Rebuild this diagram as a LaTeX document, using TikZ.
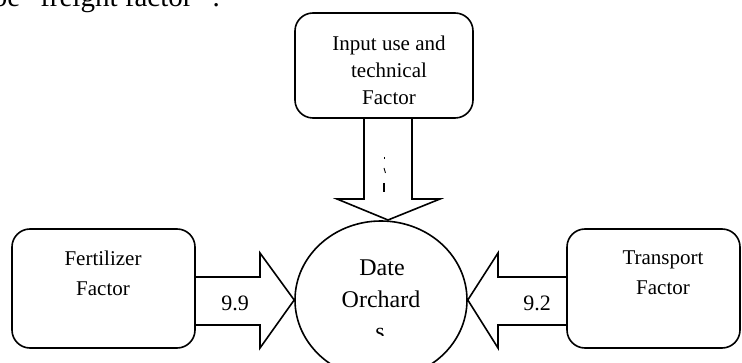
\documentclass[tikz,border=0pt]{standalone}
\usepackage{fontspec}
\setmainfont{Liberation Serif}
\usetikzlibrary{calc,shapes.geometric}
\begin{document}
\begin{tikzpicture}[x=1pt,y=-1pt, line width=1.6pt,
  box/.style={draw, rounded corners=18pt, inner sep=0pt},
  blockarrow/.style={draw, line join=miter},
  lbl/.style={font=\fontsize{21}{30}\selectfont, align=center, inner sep=0pt},
  ctxt/.style={font=\fontsize{24}{32}\selectfont, inner sep=0pt, anchor=base},
  num/.style={font=\fontsize{22}{26}\selectfont, inner sep=0pt}]
\useasboundingbox (0,0) rectangle (742,363);
\clip (0,0) rectangle (742,363);

% cut-off body text line
\node[anchor=base west, inner sep=0pt, font=\fontsize{29}{32}\selectfont] (body) at (-8,7) {be “freight factor” .};

% boxes
\node[box, minimum width=178pt, minimum height=105pt] (inp) at (384,65.5) {};
\node[box, minimum width=183pt, minimum height=119pt] (fert) at (103.5,288.5) {};
\node[box, minimum width=173pt, minimum height=119pt] (trans) at (653.5,288.5) {};
\node[draw, ellipse, minimum width=172pt, minimum height=158pt, inner sep=0pt] (orch) at (381,300) {};

% box texts
\node[lbl, font=\fontsize{21}{27}\selectfont] (inptxt) at (389,70) {Input use and\\technical\\Factor};
\node[lbl] (ferttxt) at (103,273) {Fertilizer\\Factor};
\node[lbl] (transtxt) at (663,273) {Transport\\Factor};

% ellipse text
\node[ctxt] (date) at (382,276) {Date};
\node[ctxt] (orchard) at (381,308) {Orchard};
\begin{scope}
  \clip (330,310) rectangle (430,335.5);
  \node[ctxt] (sletter) at (380,340) {s};
\end{scope}

% block arrows
\draw[blockarrow] ($(inp.south)+(-20,0)$) -- (364,199) -- (337,199) -- (388,220) -- (440,199) -- (412,199) -- ($(inp.south)+(28,0)$);
\draw[blockarrow] ($(fert.east)+(0,-11.5)$) -- (260,277) -- (260,253) -- (orch.west) -- (260,348) -- (260,325) -- ($(fert.east)+(0,36.5)$);
\draw[blockarrow] ($(trans.west)+(0,-11.5)$) -- (498,277) -- (498,253) -- (orch.east) -- (498,348) -- (498,325) -- ($(trans.west)+(0,36.5)$);

% marks inside the down arrow
\draw[line width=1pt] (384,157) -- (384,159.5);
\draw[line width=0.9pt] (384,168) -- (385.5,173);
\draw[line width=1.1pt] (384,183) -- (384,192);

% labels
\node[num] (l99) at (235,303) {9.9};
\node[num] (l92) at (537,303) {9.2};
\end{tikzpicture}
\end{document}
